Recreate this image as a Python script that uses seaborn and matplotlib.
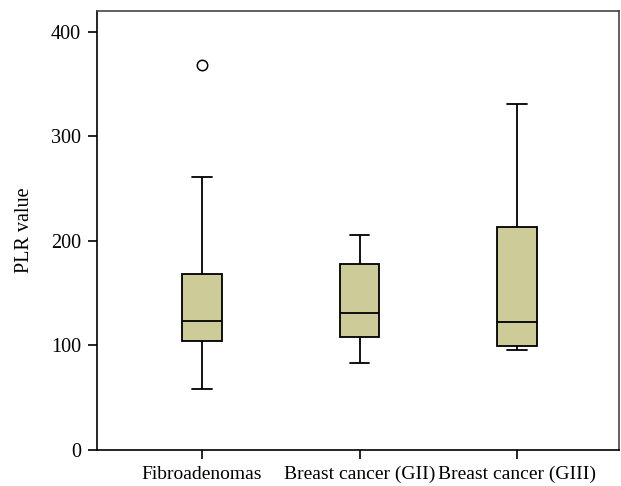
import matplotlib
matplotlib.use("Agg")
import matplotlib.pyplot as plt
import seaborn as sns
import pandas as pd

# ---- data ----
categories = ["Fibroadenomas", "Breast cancer (GII)", "Breast cancer (GIII)"]
whisker_low = [58.5, 83.0, 96.0]
q1 = [104.3, 108.0, 99.5]
median = [123.4, 131.0, 122.8]
q3 = [168.6, 177.5, 213.0]
whisker_high = [260.8, 206.0, 330.8]
outlier_group = ["Fibroadenomas"]
outlier_value = [368.3]
y_ticks = [0, 100, 200, 300, 400]

# five-number summaries as a long table (5 points -> exact quartiles)
rows = []
for c, a, b, m, d, e in zip(categories, whisker_low, q1, median, q3, whisker_high):
    for v in (a, b, m, d, e):
        rows.append({"group": c, "value": v})
df = pd.DataFrame(rows)
df_out = pd.DataFrame({"group": outlier_group, "value": outlier_value})

sns.set_style("white")
plt.rcParams["font.family"] = ["Liberation Serif", "DejaVu Serif"]
plt.rcParams["text.color"] = "black"
plt.rcParams["axes.labelcolor"] = "black"
plt.rcParams["xtick.color"] = "black"
plt.rcParams["ytick.color"] = "black"

fig = plt.figure(figsize=(6.21, 4.86), dpi=100)
ax = fig.add_axes([0.156, 0.074, 0.841, 0.904])

sns.boxplot(data=df, x="group", y="value", order=categories, whis=(0, 100),
            width=0.25, color="#cdcb97", saturation=1, linecolor="black",
            linewidth=1.3, showfliers=False, ax=ax)
sns.stripplot(data=df_out, x="group", y="value", order=categories, jitter=False,
              color="white", edgecolor="black", linewidth=1.1, size=7.5, ax=ax)

ax.set_xlim(-0.667, 2.648)
ax.set_ylim(0, 420)
ax.set_yticks(y_ticks)
ax.set_xlabel("")
ax.set_ylabel("PLR value", fontsize=14.5, labelpad=12)
ax.tick_params(axis="y", labelsize=14.5, pad=5)
ax.tick_params(axis="x", labelsize=14, pad=5)
ax.tick_params(axis="both", length=6.5, width=1.2, color="black",
               direction="out", bottom=True, left=True)
for side, sp in ax.spines.items():
    sp.set_visible(True)
    sp.set_linewidth(1.2)
    sp.set_color("black" if side in ("left", "bottom") else "#444444")

fig.savefig("out.png", dpi=100)
